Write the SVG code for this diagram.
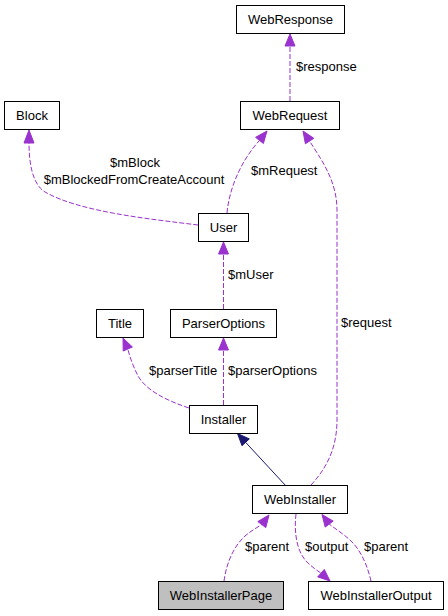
<svg xmlns="http://www.w3.org/2000/svg" width="448" height="616" viewBox="0 0 448 616">
<style>
.box{fill:#fff;stroke:#000;stroke-width:1}
.nt{font-family:"Liberation Sans",Arial,sans-serif;font-size:13px;text-anchor:middle;fill:#000}
.lb{font-family:"Liberation Sans",Arial,sans-serif;font-size:13px;fill:#000}
.e{fill:none;stroke:#9a32cd;stroke-width:1;stroke-dasharray:5,2}
.ah{fill:#9a32cd;stroke:#9a32cd}
.inh{fill:none;stroke:#191970;stroke-width:1}
.ih{fill:#191970;stroke:#191970}
</style>
<rect width="448" height="616" fill="#fff"/>
<g id="connectors">
<path class="e" d="M290,101 L290,46"/>
<polygon class="ah" points="290,34 285,46 295,46"/>
<text class="lb" x="296" y="71">$response</text>

<path class="e" d="M198,225 C150,219 80,212 45,192 C32,184 29,162 29,143"/>
<polygon class="ah" points="29,130 24,143 34,143"/>
<text class="lb" x="135" y="167" text-anchor="middle">$mBlock</text>
<text class="lb" x="134" y="184" text-anchor="middle">$mBlockedFromCreateAccount</text>

<path class="e" d="M227,213 C229,190 240,162 259.5,140.4"/>
<polygon class="ah" points="267,131 263.4,143.5 255.6,137.3"/>
<text class="lb" x="251" y="175">$mRequest</text>

<path class="e" d="M311,485 C325,470 337,450 337,420 L337,210 C337,180 320,158 309.6,141"/>
<polygon class="ah" points="303,131 313.8,138.3 305.4,143.8"/>
<text class="lb" x="341" y="327">$request</text>

<path class="e" d="M223.5,309 L223.5,254"/>
<polygon class="ah" points="223.5,242 218.5,254 228.5,254"/>
<text class="lb" x="228" y="279">$mUser</text>

<path class="e" d="M189,408 C165,400 146,390 138,376 C134,368 130,358 127.8,349"/>
<polygon class="ah" points="123,338 132.4,347 123.2,351"/>
<text class="lb" x="149" y="375">$parserTitle</text>

<path class="e" d="M223.5,405 L223.5,350"/>
<polygon class="ah" points="223.5,338 218.5,350 228.5,350"/>
<text class="lb" x="228" y="375">$parserOptions</text>

<path class="inh" d="M286,486 L245.6,442.3"/>
<polygon class="ih" points="237.5,433.5 249.3,438.9 242,445.7"/>

<path class="e" d="M224,581 C226,566 232,548 245,536 C251,531 256,528 261.8,524.6"/>
<polygon class="ah" points="269,515 265.8,527.6 257.8,521.6"/>
<text class="lb" x="245" y="551">$parent</text>

<path class="e" d="M296,514 C294,530 296,550 306,561 C311,566 316,570 321,573.1"/>
<polygon class="ah" points="330,581 317.7,576.9 324.3,569.4"/>
<text class="lb" x="305" y="551">$output</text>

<path class="e" d="M371,581 C368,568 362,552 352,542 C345,535 337,530 329.2,524.1"/>
<polygon class="ah" points="322,514.5 333.2,521.1 325.2,527.1"/>
<text class="lb" x="364" y="551">$parent</text>
</g>
<g id="WebResponse"><rect class="box" x="236.5" y="5.5" width="108" height="28"/><text class="nt" x="290.5" y="24">WebResponse</text></g>
<g id="Block"><rect class="box" x="4.5" y="101.5" width="55" height="28"/><text class="nt" x="32" y="120">Block</text></g>
<g id="WebRequest"><rect class="box" x="240.5" y="101.5" width="99" height="28"/><text class="nt" x="290" y="120">WebRequest</text></g>
<g id="User"><rect class="box" x="198.5" y="213.5" width="50" height="28"/><text class="nt" x="223.5" y="232">User</text></g>
<g id="Title"><rect class="box" x="96.5" y="309.5" width="47" height="28"/><text class="nt" x="120" y="328">Title</text></g>
<g id="ParserOptions"><rect class="box" x="170.5" y="309.5" width="106" height="28"/><text class="nt" x="223.5" y="328">ParserOptions</text></g>
<g id="Installer"><rect class="box" x="189.5" y="405.5" width="68" height="28"/><text class="nt" x="223.5" y="424">Installer</text></g>
<g id="WebInstaller"><rect class="box" x="252.5" y="485.5" width="95" height="28"/><text class="nt" x="300" y="504">WebInstaller</text></g>
<g id="WebInstallerPage"><rect class="box" x="158.5" y="581.5" width="125" height="28" style="fill:#bfbfbf"/><text class="nt" x="221" y="600">WebInstallerPage</text></g>
<g id="WebInstallerOutput"><rect class="box" x="308.5" y="581.5" width="135" height="28"/><text class="nt" x="376" y="600">WebInstallerOutput</text></g>
</svg>
